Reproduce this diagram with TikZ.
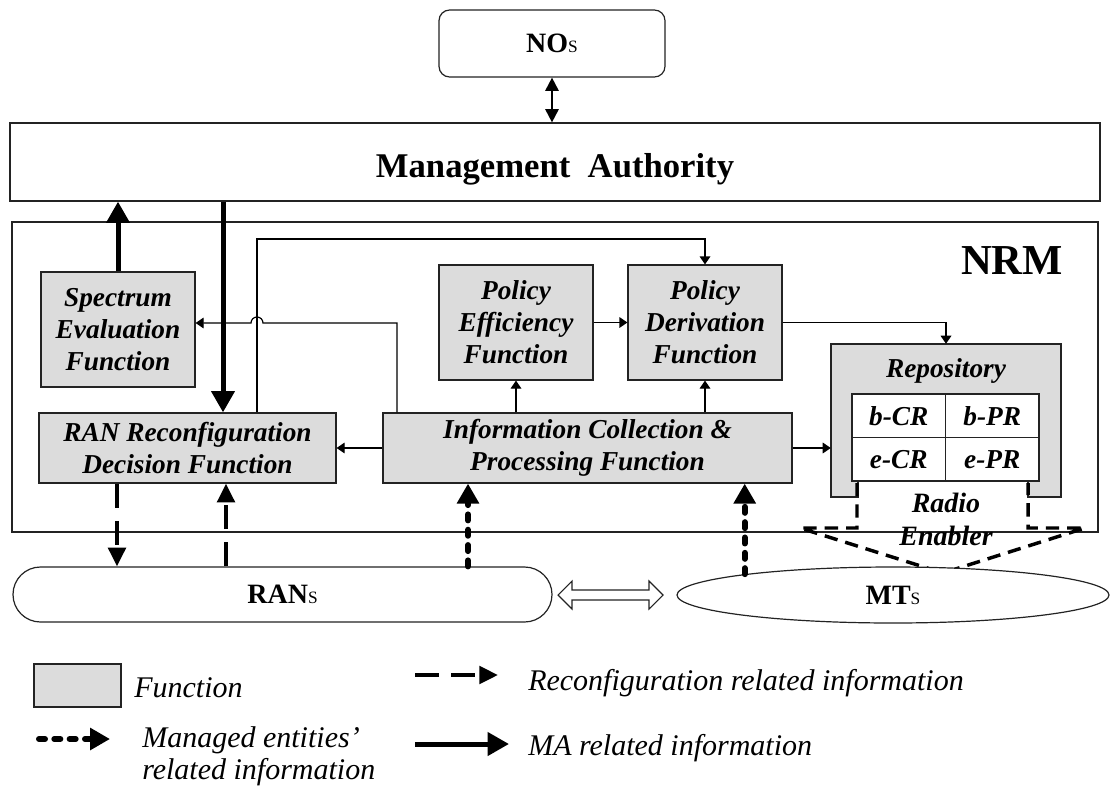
\documentclass[tikz,border=0pt]{standalone}
\usepackage{fontspec}
\setmainfont{Liberation Serif}
\usetikzlibrary{arrows.meta,shapes.geometric,calc}
\definecolor{fgray}{RGB}{220,220,220}
\definecolor{edge}{RGB}{35,35,35}
\begin{document}
\begin{tikzpicture}[x=0.75pt,y=-0.75pt,
  wh/.style 2 args={minimum width=#1*0.75pt,minimum height=#2*0.75pt},
  plain/.style={draw=edge,line width=0.9pt,fill=white,inner sep=0pt},
  func/.style={draw=edge,line width=0.9pt,fill=fgray,inner sep=0pt,align=center,
    font=\fontsize{20.5pt}{24pt}\selectfont\bfseries\itshape},
  cell/.style={draw=edge,line width=0.9pt,fill=white,inner sep=0pt,
    font=\fontsize{20.5pt}{24pt}\selectfont\bfseries\itshape},
  big/.style={font=\fontsize{21pt}{24pt}\selectfont\bfseries},
  legend/.style={font=\fontsize{22.5pt}{24pt}\selectfont\itshape,inner sep=0pt,align=left},
  thinarr/.style={line width=0.9pt,-{Triangle[length=6pt,width=8pt]}},
  thickarr/.style={line width=3.75pt,-{Triangle[length=16pt,width=17pt]}},
  reconf/.style={line width=3pt,dash pattern=on 18pt off 10pt,-{Triangle[length=14pt,width=13pt]}},
  managed/.style={line width=4.5pt,line cap=round,dash pattern=on 4.5pt off 7pt,-{Triangle[length=15pt,width=16pt]}},
  radioline/.style={line width=2.6pt,dash pattern=on 10pt off 6pt}]
\fill[white] (0,0) rectangle (1112,792);
\useasboundingbox (0,0) rectangle (1112,792);

% top
\node[plain,rounded corners=8pt,wh={226}{67},big] (nos) at (552,43.5) {NO{\fontsize{13pt}{14pt}\selectfont\mdseries S}};
\node[plain,wh={1090}{78}] (ma) at (555,162) {};
\node[font=\fontsize{26pt}{28pt}\selectfont\bfseries] (malbl) at (555,169) {Management\ \ Authority};
\draw[line width=1.5pt,{Triangle[length=10pt,width=10pt]}-{Triangle[length=10pt,width=10pt]}] (nos.south) -- (nos.south |- ma.north);

% NRM frame
\node[plain,wh={1086}{310}] (nrm) at (555,377) {};
\node[font=\fontsize{32pt}{36pt}\selectfont\bfseries] (nrmlbl) at (1012,261) {NRM};

% functions
\node[func,wh={154}{115}] (spec) at (118,329.5) {Spectrum\\Evaluation\\Function};
\node[func,wh={297}{70}] (ranrc) at (187.5,448) {RAN Reconfiguration\\Decision Function};
\node[func,wh={154}{115}] (pe) at (516,322.5) {Policy\\Efficiency\\Function};
\node[func,wh={154}{115}] (pd) at (705,322.5) {Policy\\Derivation\\Function};
\node[func,wh={409}{70}] (icp) at (587.5,448) {Information Collection \&\\Processing Function};

% repository
\draw[draw=edge,fill=fgray,line width=0.9pt] (831,344) -- (1061,344) -- (1061,497) -- (1028,497) -- (1028,481) -- (858,481) -- (858,497) -- (831,497) -- cycle;
\node[inner sep=0pt,wh={230}{153}] (repo) at (946,420.5) {};
\node[cell,draw=none,fill=none] (repolbl) at (946,371) {Repository};
\node[cell,wh={93.5}{43.5}] (bcr) at (898.75,415.75) {b-CR};
\node[cell,wh={93.5}{43.5}] (bpr) at (992.25,415.75) {b-PR};
\node[cell,wh={93.5}{43.5}] (ecr) at (898.75,459.25) {e-CR};
\node[cell,wh={93.5}{43.5}] (epr) at (992.25,459.25) {e-PR};
\node[font=\fontsize{21pt}{24.75pt}\selectfont\bfseries\itshape,align=center,inner sep=0pt] (radio) at (946,519) {Radio\\Enabler};
\draw[radioline] (857,483) -- (857,528) -- (800,528) -- (943,573) -- (1085,528) -- (1028,528) -- (1028,483);

% bottom entities
\node[plain,rounded corners=20.6pt,wh={539}{55},big] (rans) at (282.5,594.5) {RAN{\fontsize{13pt}{14pt}\selectfont\mdseries S}};
\node[plain,ellipse,minimum width=324pt,minimum height=42pt,big] (mts) at (893,595) {MT{\fontsize{13pt}{14pt}\selectfont\mdseries S}};
\draw[draw=edge,line width=0.8pt,fill=white] (558,595) -- (572,581) -- (572,590) -- (649,590) -- (649,581) -- (663,595) -- (649,609) -- (649,600) -- (572,600) -- (572,609) -- cycle;

% MA related
\draw[thickarr] (spec.north) -- (spec.north |- ma.south);
\draw[thickarr] (ma.south -| 223,0) -- (ranrc.north -| 223,0);

% thin connectors
\coordinate (c1) at (257,239);
\draw[thinarr] (ranrc.north -| c1) -- (c1) -| (pd.north);
\draw[thinarr] (icp.north -| 397,0) -- (397,323) -- (263,323) arc[start angle=0,end angle=-180,radius=6] -- (spec.east |- 0,323);
\draw[thinarr] (pe.east) -- (pd.west);
\draw[thinarr] (pe.south |- icp.north) -- (pe.south);
\draw[thinarr] (pd.south |- icp.north) -- (pd.south);
\draw[thinarr] (pd.east) -| (repo.north);
\draw[thinarr] (icp.west) -- (ranrc.east);
\draw[thinarr] (icp.east) -- (icp.east -| repo.west);

% reconfiguration / managed
\draw[reconf] (ranrc.south -| 117,0) -- (rans.north -| 117,0);
\draw[reconf] (rans.north -| 226,0) -- (ranrc.south -| 226,0);
\draw[managed] (rans.north -| 468,0) -- (icp.south -| 468,0);
\draw[managed] (mts.172.3) -- (icp.south -| mts.172.3);

% legend
\node[func,wh={87}{43}] (lgbox) at (77.5,685.5) {};
\node[legend,anchor=west] (lgfunc) at (134,688) {Function};
\coordinate (m1) at (39,739); \coordinate (m2) at (110,739);
\draw[managed] (m1) -- (m2);
\node[legend,anchor=west] (lgman) at (142,756) {Managed entities'\\related information};
\coordinate (r1) at (415,675); \coordinate (r2) at (498,675);
\draw[reconf,dash pattern=on 18pt off 9pt] (r1) -- (r2);
\node[legend,anchor=west] (lgrec) at (528,683) {Reconfiguration related information};
\coordinate (s1) at (415,744); \coordinate (s2) at (509,744);
\draw[thickarr] (s1) -- (s2);
\node[legend,anchor=west] (lgma) at (528,748) {MA related information};
\end{tikzpicture}
\end{document}
